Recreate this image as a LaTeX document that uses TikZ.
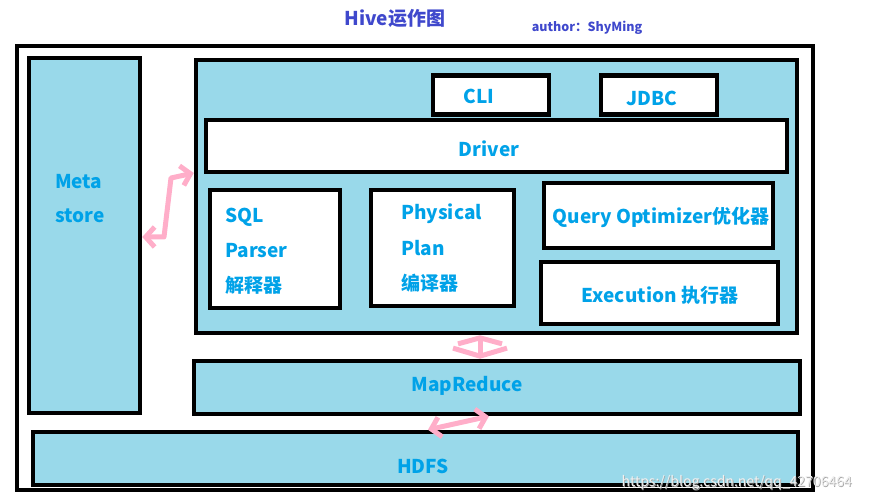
\documentclass[tikz,border=0pt]{standalone}
\usepackage{fontspec}
\setmainfont{Noto Sans CJK SC}
\usepackage{tikz}
\usetikzlibrary{calc,positioning,arrows.meta}
\definecolor{hivefill}{HTML}{99D9EA}
\definecolor{hivetext}{HTML}{00A2E8}
\definecolor{hivetitle}{HTML}{3F48CC}
\definecolor{hivepink}{HTML}{FFAEC9}

\begin{document}
\begin{tikzpicture}[x=1pt, y=-1pt, font=\bfseries\fontsize{19}{21}\selectfont,
    box/.style={draw=black, line width=4.5pt, fill=hivefill, inner sep=0pt},
    wbox/.style={box, fill=white},
    txt/.style={text=hivetext, inner sep=0pt, anchor=west},
    lbl/.style={text=hivetext, inner sep=0pt},
    pinkarrow/.style={draw=hivepink, line width=5pt, line cap=round, line join=round,
                      {Straight Barb[length=9pt, width=20pt]}-{Straight Barb[length=9pt, width=20pt]}}]
  \useasboundingbox (0,0) rectangle (872,502);
  % titles
  \node[text=hivetitle, font=\bfseries\fontsize{19}{20}\selectfont] (title) at (395,18) {Hive运作图};
  \node[text=hivetitle, font=\bfseries\fontsize{12.5}{14}\selectfont] (author) at (587,28) {author：ShyMing};
  % frame
  \draw[line width=4pt] (17,46) rectangle (813,490);
  % metastore
  \node[box, minimum width=111pt, minimum height=355pt] (meta) at (84.5,235.5) {};
  \node[txt] (metaA) at (55,182) {Meta};
  \node[txt] (metaB) at (55,216) {store};
  % hive box
  \node[box, minimum width=601pt, minimum height=273pt] (hive) at (496.5,196.5) {};
  \node[wbox, minimum width=116pt, minimum height=39pt] (cli) at (491,95) {};
  \node[lbl] (cliT) at (479,96) {CLI};
  \node[wbox, minimum width=116pt, minimum height=39pt] (jdbc) at (659,95) {};
  \node[lbl] (jdbcT) at (652,98) {JDBC};
  \node[wbox, minimum width=581pt, minimum height=52pt] (driver) at (496.5,146) {};
  \node[lbl] (driverT) at (489,149) {Driver};
  \node[wbox, minimum width=130pt, minimum height=118pt] (sql) at (275,249) {};
  \node[txt] (sqlA) at (225,217) {SQL};
  \node[txt] (sqlB) at (225,251) {Parser};
  \node[txt] (sqlC) at (225,285) {解释器};
  \node[wbox, minimum width=143pt, minimum height=116pt] (plan) at (442.5,248) {};
  \node[txt] (planA) at (401,214) {Physical};
  \node[txt] (planB) at (401,248) {Plan};
  \node[txt] (planC) at (401,283) {编译器};
  \node[wbox, minimum width=229pt, minimum height=65pt] (opt) at (658.5,215.5) {};
  \node[lbl] (optT) at (661,217) {Query Optimizer优化器};
  \node[wbox, minimum width=237pt, minimum height=62pt] (exec) at (659.5,293) {};
  \node[lbl] (execT) at (660,295) {Execution 执行器};
  % lower layers
  \node[box, minimum width=606pt, minimum height=53pt] (mr) at (497,387.5) {};
  \node[lbl] (mrT) at (467,386) {MapReduce};
  \node[box, minimum width=765pt, minimum height=53pt] (hdfs) at (415.5,458.5) {};
  \node[lbl] (hdfsT) at (423,466) {HDFS};
  % pink arrows
  \coordinate (mstart) at (meta.east |- 0,237);
  \coordinate (hend) at (hive.west |- 0,173);
  \draw[pinkarrow] (mstart) -- (164,237) -- (171,178) -- (hend);
  \draw[pinkarrow, {Straight Barb[length=6pt, width=44pt]}-{Straight Barb[length=8pt, width=54pt]}]
        (hive.south -| 480,0) -- (mr.north -| 480,0);
  \draw[pinkarrow] (hdfs.north -| 428,0) -- (mr.south -| 489,0);
  % watermark
  \node[text=black!35, font=\fontsize{14}{15}\selectfont, anchor=west] (markS) at (618.8,483.8) {https://blog.csdn.net/qq\_42706464};
  \node[text=black!6, font=\fontsize{14}{15}\selectfont, anchor=west] (mark) at (618,483) {https://blog.csdn.net/qq\_42706464};
\end{tikzpicture}
\end{document}
